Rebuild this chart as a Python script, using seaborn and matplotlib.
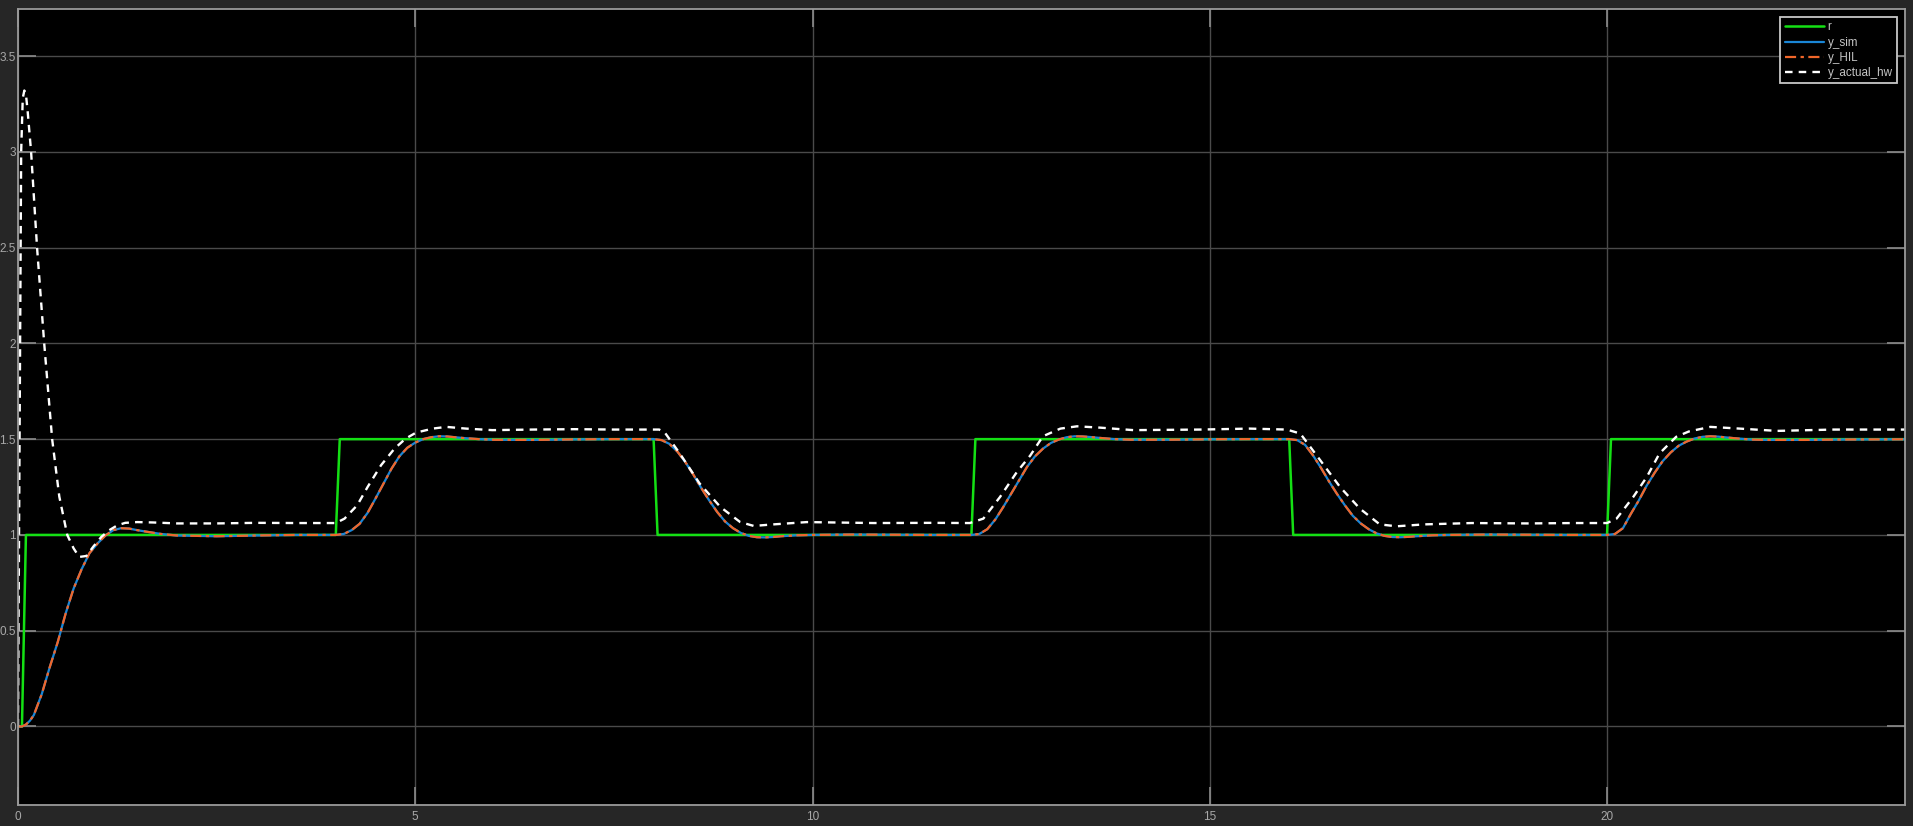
import matplotlib
matplotlib.use("Agg")
import matplotlib.pyplot as plt
import seaborn as sns

# consigne r
t_r = [0, 0.05, 0.1, 4.0, 4.05, 8.0, 8.05, 12.0, 12.05, 16.0, 16.05, 20.0, 20.05, 23.75]
r = [0, 0, 1, 1, 1.5, 1.5, 1, 1, 1.5, 1.5, 1, 1, 1.5, 1.5]

# sortie simulée (y_sim) et HIL (y_HIL, confondue avec y_sim)
t_y = [
    0, 0.05, 0.1, 0.15, 0.2, 0.3, 0.4, 0.5, 0.6, 0.7, 0.8, 0.9, 1.0, 1.1, 1.2, 1.3, 1.4, 1.5, 1.6, 1.8, 2.0, 2.5, 3.0, 3.5,
    4.0, 4.1, 4.2, 4.3, 4.4, 4.5, 4.6, 4.7, 4.8, 4.9, 5.0, 5.1, 5.2, 5.3, 5.4, 5.5, 5.6, 5.8, 6.0, 6.5, 7.0, 7.5,
    8.0, 8.1, 8.2, 8.3, 8.4, 8.5, 8.6, 8.7, 8.8, 8.9, 9.0, 9.1, 9.2, 9.3, 9.4, 9.5, 9.6, 9.8, 10.0, 10.5, 11.0, 11.5,
    12.0, 12.1, 12.2, 12.3, 12.4, 12.5, 12.6, 12.7, 12.8, 12.9, 13.0, 13.1, 13.2, 13.3, 13.4, 13.5, 13.6, 13.8, 14.0, 14.5, 15.0, 15.5,
    16.0, 16.1, 16.2, 16.3, 16.4, 16.5, 16.6, 16.7, 16.8, 16.9, 17.0, 17.1, 17.2, 17.3, 17.4, 17.5, 17.6, 17.8, 18.0, 18.5, 19.0, 19.5,
    20.0, 20.1, 20.2, 20.3, 20.4, 20.5, 20.6, 20.7, 20.8, 20.9, 21.0, 21.1, 21.2, 21.3, 21.4, 21.5, 21.6, 21.8, 22.0, 22.5, 23.0, 23.75,
]
y_sim = [
    0, 0.0, 0.01, 0.03, 0.06, 0.17, 0.31, 0.44, 0.59, 0.72, 0.82, 0.905, 0.955, 0.997, 1.025, 1.035, 1.033, 1.025, 1.018, 1.005, 0.997, 0.993, 0.997, 1.0,
    1.0, 1.005, 1.025, 1.058, 1.115, 1.19, 1.268, 1.345, 1.41, 1.455, 1.482, 1.50, 1.51, 1.515, 1.514, 1.51, 1.506, 1.50, 1.4965, 1.496, 1.4985, 1.5,
    1.5, 1.495, 1.475, 1.435, 1.38, 1.315, 1.245, 1.18, 1.12, 1.07, 1.035, 1.01, 0.995, 0.988, 0.987, 0.989, 0.993, 0.998, 1.0, 1.002, 1.001, 1.0,
    1.0, 1.005, 1.03, 1.08, 1.145, 1.215, 1.285, 1.355, 1.41, 1.45, 1.48, 1.498, 1.51, 1.515, 1.514, 1.511, 1.507, 1.5, 1.497, 1.497, 1.499, 1.5,
    1.5, 1.495, 1.47, 1.415, 1.35, 1.28, 1.215, 1.155, 1.10, 1.06, 1.03, 1.008, 0.995, 0.989, 0.988, 0.99, 0.993, 0.998, 1.0, 1.002, 1.001, 1.0,
    1.0, 1.005, 1.035, 1.11, 1.18, 1.258, 1.325, 1.385, 1.43, 1.465, 1.487, 1.503, 1.512, 1.515, 1.513, 1.509, 1.505, 1.498, 1.496, 1.496, 1.498, 1.499,
]
y_hil = list(y_sim)

# mesure sur le matériel réel
t_hw = [
    0, 0.02, 0.04, 0.06, 0.08, 0.1, 0.12, 0.165, 0.24, 0.33, 0.43, 0.52, 0.62, 0.7, 0.77, 0.86, 0.95, 1.05, 1.15, 1.25, 1.35, 1.5, 1.7, 2.0, 2.5, 3.0, 3.5,
    4.0, 4.11, 4.27, 4.40, 4.57, 4.74, 4.88, 5.01, 5.22, 5.39, 5.64, 5.97, 6.48, 7.0, 7.5, 8.07,
    8.14, 8.33, 8.58, 8.84, 9.09, 9.26, 9.51, 9.93, 10.77, 11.5, 11.98,
    12.15, 12.36, 12.57, 12.74, 12.9, 13.12, 13.33, 13.62, 14.04, 14.88, 15.5, 15.97,
    16.14, 16.39, 16.64, 16.89, 17.14, 17.35, 17.7, 18.3, 19.0, 19.6, 20.0,
    20.12, 20.33, 20.5, 20.66, 20.87, 21.03, 21.3, 21.67, 22.14, 22.85, 23.75,
]
y_hw = [
    0, 1.5, 3.0, 3.28, 3.32, 3.3, 3.22, 3.0, 2.5, 2.0, 1.5, 1.2, 1.0, 0.93, 0.885, 0.89, 0.94, 0.99, 1.025, 1.05, 1.063, 1.067, 1.065, 1.06, 1.06, 1.063, 1.062,
    1.062, 1.085, 1.155, 1.25, 1.364, 1.451, 1.503, 1.534, 1.555, 1.564, 1.555, 1.547, 1.55, 1.552, 1.55, 1.55,
    1.535, 1.425, 1.268, 1.146, 1.067, 1.047, 1.055, 1.067, 1.062, 1.063, 1.062,
    1.085, 1.198, 1.327, 1.414, 1.515, 1.555, 1.567, 1.56, 1.547, 1.55, 1.555, 1.55,
    1.529, 1.39, 1.25, 1.137, 1.055, 1.045, 1.055, 1.062, 1.06, 1.062, 1.062,
    1.085, 1.198, 1.302, 1.425, 1.512, 1.54, 1.564, 1.555, 1.543, 1.55, 1.55,
]

# --- style "scope Simulink" ---
sns.set_style("dark")
plt.rcParams["font.family"] = ["Liberation Sans", "DejaVu Sans"]

fig = plt.figure(figsize=(19.13, 8.26), dpi=100, facecolor="#262626")
ax = fig.add_axes([0.0094, 0.0254, 0.9864, 0.9636])
ax.set_facecolor("black")

sns.lineplot(x=t_r, y=r, ax=ax, color="#14e014", linewidth=1.8, label="r", sort=False, estimator=None)
sns.lineplot(x=t_y, y=y_sim, ax=ax, color="#1a86d6", linewidth=1.6, label="y_sim", sort=False, estimator=None)
sns.lineplot(x=t_y, y=y_hil, ax=ax, color="#f0662a", linewidth=1.6, label="y_HIL", sort=False, estimator=None)
sns.lineplot(x=t_hw, y=y_hw, ax=ax, color="white", linewidth=1.7, label="y_actual_hw", sort=False, estimator=None)
ax.lines[2].set_dashes([5, 2, 1.5, 2])
ax.lines[3].set_dashes([3.2, 2.6])

ax.set_xlim(0, 23.75)
ax.set_ylim(-0.41, 3.745)
ax.set_xticks([0, 5, 10, 15, 20])
ax.set_yticks([0, 0.5, 1, 1.5, 2, 2.5, 3, 3.5])
ax.set_yticklabels(["0", "0.5", "1", "1.5", "2", "2.5", "3", "3.5"])
ax.set_xlabel("")
ax.set_ylabel("")

ax.grid(True, color="#4a4a4a", linewidth=1.0)
ax.set_axisbelow(True)
ax.tick_params(axis="both", which="both", direction="in", length=13, width=1.2, color="#8c8c8c",
               labelcolor="#a8a8a8", labelsize=8.5, pad=1.5, top=True, right=True, bottom=True, left=True)
ax.tick_params(axis="x", pad=4)
for s in ax.spines.values():
    s.set_color("#9a9a9a")
    s.set_linewidth(1.3)

leg = ax.legend(loc="upper right", fontsize=8.4, handlelength=3.4, handletextpad=0.3,
                labelspacing=0.28, borderpad=0.35, borderaxespad=0.7, fancybox=False,
                facecolor="black", edgecolor="#c8c8c8", framealpha=1)
leg.get_frame().set_linewidth(1.3)
for txt in leg.get_texts():
    txt.set_color("#c4c4c4")

fig.savefig("out.png", dpi=100, facecolor=fig.get_facecolor())
plt.close(fig)
